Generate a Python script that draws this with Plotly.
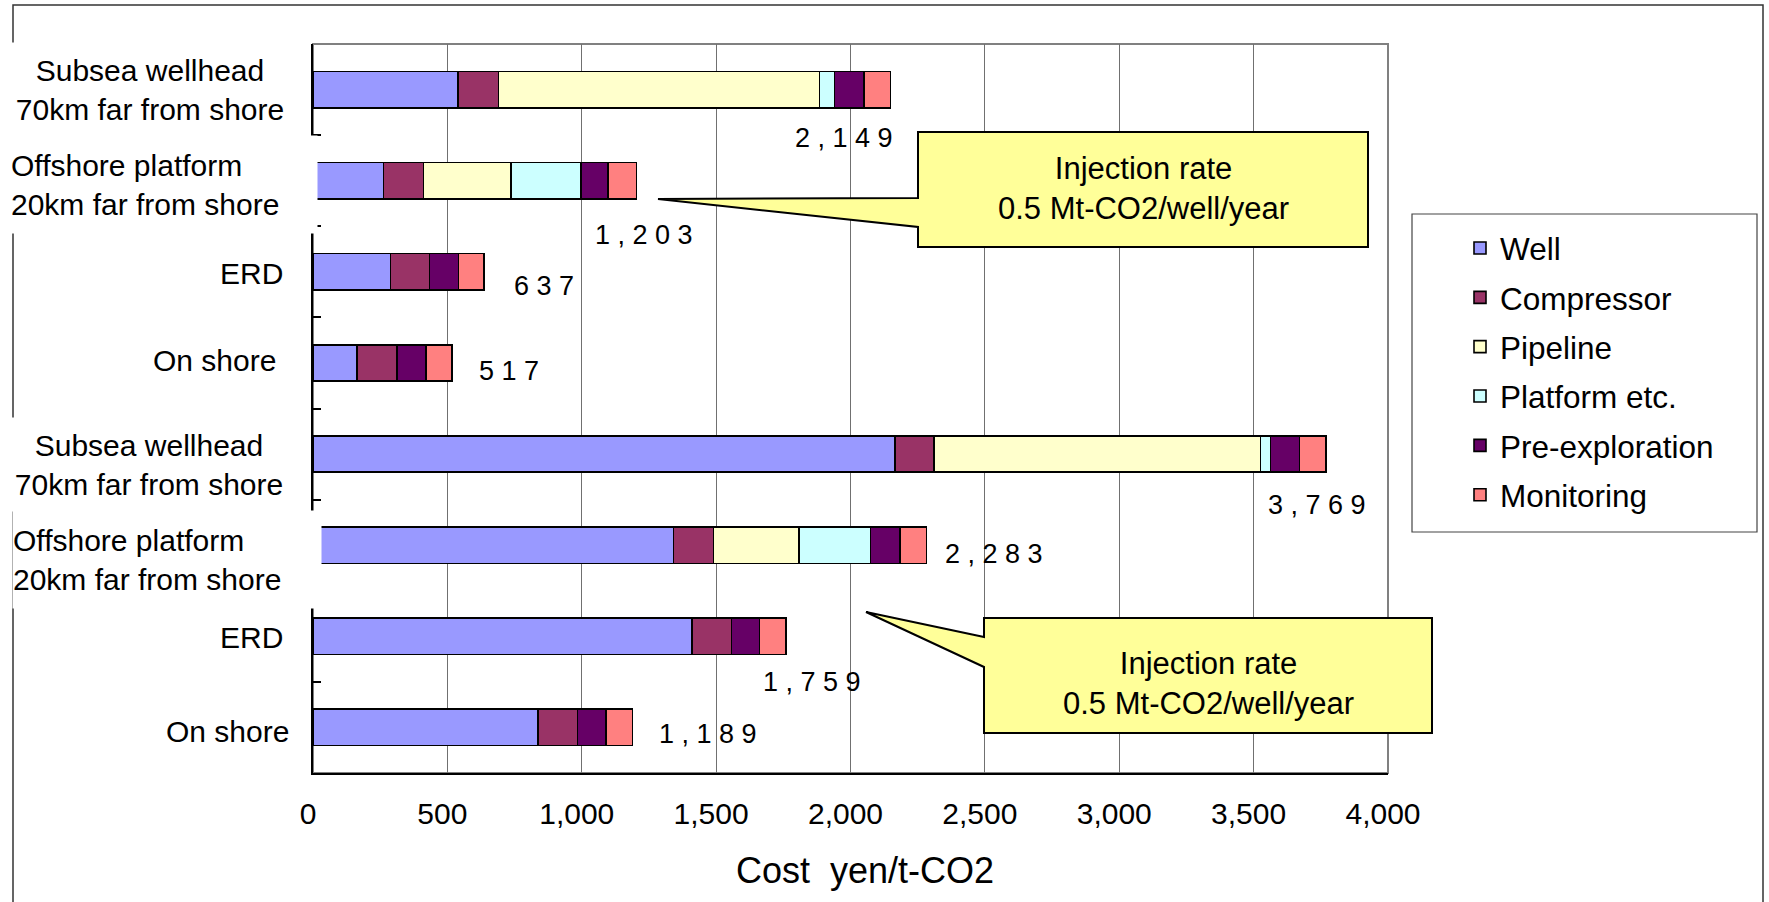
import plotly.graph_objects as go

# ---- data (rows listed top to bottom) ----
row_keys = [
    "Subsea wellhead 70km (a)", "Offshore platform 20km (a)", "ERD (a)", "On shore (a)",
    "Subsea wellhead 70km (b)", "Offshore platform 20km (b)", "ERD (b)", "On shore (b)",
]
row_labels = [
    "Subsea wellhead<br>70km far from shore",
    "Offshore platform<br>20km far from shore",
    "ERD",
    "On shore",
    "Subsea wellhead<br>70km far from shore",
    "Offshore platform<br>20km far from shore",
    "ERD",
    "On shore",
]
well = [540, 262, 288, 164, 2165, 1341, 1410, 837]
compressor = [150, 149, 145, 149, 146, 149, 147, 147]
pipeline = [1195, 325, None, None, 1215, 319, None, None]
platform = [55, 262, None, None, 37, 265, None, None]
pre_exploration = [110, 100, 108, 107, 108, 110, 104, 107]
monitoring = [99, 105, 96, 97, 98, 99, 98, 98]
totals = [2149, 1203, 637, 517, 3769, 2283, 1759, 1189]

x_ticks = [0, 500, 1000, 1500, 2000, 2500, 3000, 3500, 4000]
callout_text = "Injection rate<br>0.5 Mt-CO2/well/year"

series = [
    ("Well", well, "#9999FF"),
    ("Compressor", compressor, "#993366"),
    ("Pipeline", pipeline, "#FFFFCC"),
    ("Platform etc.", platform, "#CCFFFF"),
    ("Pre-exploration", pre_exploration, "#660066"),
    ("Monitoring", monitoring, "#FF8080"),
]

# ---- page geometry (pixels) ----
W, H = 1769, 902
L, R, T, B = 313, 1388, 44, 773
FONT = "Liberation Sans, Arial, sans-serif"


def fx(px):
    return (px - L) / (R - L)


def fy(py):
    return (B - py) / (B - T)


def poly(points):
    parts = [f"{'M' if i == 0 else 'L'} {fx(x):.5f},{fy(y):.5f}" for i, (x, y) in enumerate(points)]
    return " ".join(parts) + " Z"


fig = go.Figure()
for name, vals, color in series:
    fig.add_trace(go.Bar(
        y=row_keys, x=vals, name=name, orientation="h",
        legendgroup=name,
        marker=dict(color=color, line=dict(color="black", width=1.6)),
    ))

shapes = [
    # outer frame
    dict(type="rect", xref="paper", yref="paper", x0=fx(13), x1=fx(1763), y0=fy(930), y1=fy(5),
         line=dict(color="#333333", width=1.5), layer="below"),
    # plot area border
    dict(type="rect", xref="paper", yref="paper", x0=0, x1=1, y0=0, y1=1,
         line=dict(color="#808080", width=2), layer="below"),
    # legend border
    dict(type="rect", xref="paper", yref="paper", x0=fx(1412), x1=fx(1757), y0=fy(532), y1=fy(214),
         line=dict(color="#444444", width=1.2), layer="below"),
    # callout balloons
    dict(type="path", xref="paper", yref="paper",
         path=poly([(918, 132), (1368, 132), (1368, 247), (918, 247), (918, 227), (658, 199), (918, 198)]),
         fillcolor="#FFFF99", line=dict(color="black", width=2), layer="above"),
    dict(type="path", xref="paper", yref="paper",
         path=poly([(984, 618), (1432, 618), (1432, 733), (984, 733), (984, 667), (866, 612), (984, 637)]),
         fillcolor="#FFFF99", line=dict(color="black", width=2), layer="above"),
]

annotations = []

# row labels: (x px, anchor, align, y px, box)
label_pos = [
    dict(x=0, xanchor="left", align="center", y=42, box=(298, 93)),
    dict(x=10, xanchor="left", align="left", y=135, box=(306, 97)),
    dict(x=285, xanchor="right", align="right", yc=273),
    dict(x=278, xanchor="right", align="right", yc=360),
    dict(x=0, xanchor="left", align="center", y=417, box=(296, 93)),
    dict(x=12, xanchor="left", align="left", y=510, box=(308, 97)),
    dict(x=285, xanchor="right", align="right", yc=637),
    dict(x=291, xanchor="right", align="right", yc=731),
]
for text, p in zip(row_labels, label_pos):
    a = dict(text=text, xref="paper", yref="paper", x=fx(p["x"]), xanchor=p["xanchor"],
             align=p["align"], showarrow=False, font=dict(family=FONT, size=30, color="black"))
    if "box" in p:
        a.update(y=fy(p["y"]), yanchor="top", width=p["box"][0], height=p["box"][1],
                 bgcolor="white", borderpad=0, valign="middle")
    else:
        a.update(y=fy(p["yc"]), yanchor="middle")
    annotations.append(a)

# total labels beside each bar (pixel offsets from the bar end)
total_offsets = [(-47, 48), (8, 54), (60, 14), (57, 8), (-9, 51), (67, 9), (26, 46), (75, 7)]
for key, tot, (dx, dy) in zip(row_keys, totals, total_offsets):
    annotations.append(dict(
        text=" ".join(f"{tot:,}"), x=tot, y=key, xref="x", yref="y",
        xshift=dx, yshift=-dy, xanchor="center", yanchor="middle", showarrow=False,
        font=dict(family=FONT, size=27, color="black"),
    ))

# callout texts
for cx, cy in [(1143, 189), (1208, 683)]:
    annotations.append(dict(
        text=callout_text, xref="paper", yref="paper", x=fx(cx), y=fy(cy),
        xanchor="center", yanchor="middle", showarrow=False, align="center",
        font=dict(family=FONT, size=31, color="black"),
    ))

# x axis title
annotations.append(dict(
    text="Cost\u00a0\u00a0yen/t-CO2", xref="paper", yref="paper", x=fx(865), y=fy(870),
    xanchor="center", yanchor="middle", showarrow=False,
    font=dict(family=FONT, size=36, color="black"),
))

fig.update_layout(
    width=W, height=H,
    margin=dict(l=L, r=W - R, t=T, b=H - B, pad=0),
    paper_bgcolor="white", plot_bgcolor="white",
    barmode="stack", bargap=0.6,
    font=dict(family=FONT, size=30, color="black"),
    showlegend=True,
    legend=dict(
        x=fx(1460), y=fy(221), xanchor="left", yanchor="top",
        traceorder="grouped", tracegroupgap=5.4,
        font=dict(family=FONT, size=31.5, color="black"),
        bgcolor="rgba(0,0,0,0)", borderwidth=0,
    ),
    xaxis=dict(
        range=[0, 4000], tickvals=x_ticks, tickformat=",",
        showgrid=True, gridcolor="#707070", gridwidth=1,
        zeroline=False, showline=True, linecolor="black", linewidth=2,
        ticks="", ticklabelstandoff=13, ticklabelshift=-5,
        tickfont=dict(family=FONT, size=30, color="black"),
    ),
    yaxis=dict(
        type="category", categoryorder="array", categoryarray=row_keys,
        range=[len(row_keys) - 0.5, -0.5], showticklabels=False,
        ticks="inside", tickson="boundaries", ticklen=8, tickcolor="black", tickwidth=1.5,
        showgrid=False, zeroline=False, showline=True, linecolor="black", linewidth=2,
    ),
    shapes=shapes,
    annotations=annotations,
)

fig.write_html("out.html")
